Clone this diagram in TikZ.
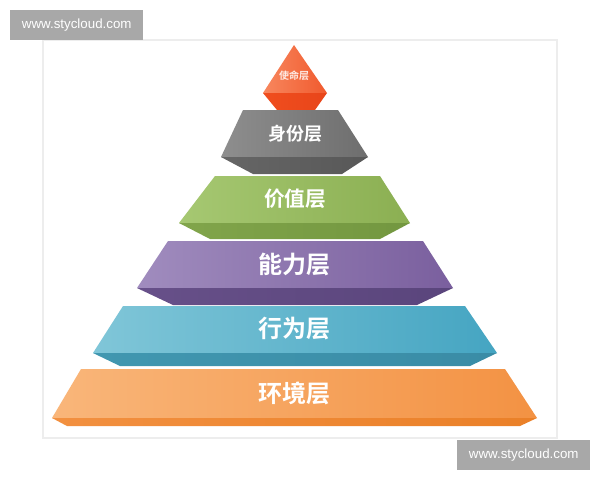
\documentclass[tikz,border=0pt]{standalone}
\usepackage{fontspec}
\setmainfont{Liberation Sans}
\newfontfamily\cjk{Noto Sans CJK SC}[BoldFont={* Bold}]
\definecolor{wmgray}{HTML}{A8A8A8}
\definecolor{framegray}{HTML}{EDEDED}
% layer colours
\definecolor{rAL}{HTML}{F8875E}\definecolor{rAR}{HTML}{F05A2E}\definecolor{rBL}{HTML}{F04E1E}\definecolor{rBR}{HTML}{E8451A}
\definecolor{gAL}{HTML}{8E8E8E}\definecolor{gAR}{HTML}{6E6E6E}\definecolor{gBL}{HTML}{666666}\definecolor{gBR}{HTML}{585858}
\definecolor{vAL}{HTML}{A6C872}\definecolor{vAR}{HTML}{8BAF52}\definecolor{vBL}{HTML}{81A54B}\definecolor{vBR}{HTML}{739740}
\definecolor{pAL}{HTML}{A08CBE}\definecolor{pAR}{HTML}{7A5F9E}\definecolor{pBL}{HTML}{675089}\definecolor{pBR}{HTML}{5A457C}
\definecolor{tAL}{HTML}{80C6D8}\definecolor{tAR}{HTML}{45A5C2}\definecolor{tBL}{HTML}{4197B0}\definecolor{tBR}{HTML}{3A8CA6}
\definecolor{oAL}{HTML}{F9B67A}\definecolor{oAR}{HTML}{F39243}\definecolor{oBL}{HTML}{F29040}\definecolor{oBR}{HTML}{EA8028}
\tikzset{
  wmbox/.style={fill=wmgray,inner sep=0pt,minimum width=133*0.75pt,minimum height=29.5*0.75pt,text=white,font=\fontsize{10}{12}\selectfont},
  lbl/.style={text=white,inner sep=0pt,font=\cjk\bfseries},
}
\begin{document}
\begin{tikzpicture}[x=0.75pt,y=-0.75pt]
\useasboundingbox (0,0) rectangle (600,480);
\fill[white] (0,0) rectangle (600,480);
\draw[framegray,line width=0.8pt] (43,40) rectangle (557,438);
% layer 1: mission
\shade[left color=rAL,right color=rAR] (294,45) -- (327,93) -- (263,93) -- cycle;
\shade[left color=rBL,right color=rBR] (263,93) -- (327,93) -- (315,110) -- (277,110) -- cycle;
% layer 2: gray
\shade[left color=gAL,right color=gAR] (243,110) -- (338,110) -- (368,157) -- (221,157) -- cycle;
\shade[left color=gBL,right color=gBR] (221,157) -- (368,157) -- (342,174) -- (253,174) -- cycle;
% layer 3: green
\shade[left color=vAL,right color=vAR] (215,176) -- (380,176) -- (410,223) -- (179,223) -- cycle;
\shade[left color=vBL,right color=vBR] (179,223) -- (410,223) -- (380,239) -- (210,239) -- cycle;
% layer 4: purple
\shade[left color=pAL,right color=pAR] (168,241) -- (423,241) -- (453,288) -- (137,288) -- cycle;
\shade[left color=pBL,right color=pBR] (137,288) -- (453,288) -- (417,305) -- (173,305) -- cycle;
% layer 5: teal
\shade[left color=tAL,right color=tAR] (123,306) -- (465,306) -- (497,353) -- (93,353) -- cycle;
\shade[left color=tBL,right color=tBR] (93,353) -- (497,353) -- (470,366) -- (120,366) -- cycle;
% layer 6: orange
\shade[left color=oAL,right color=oAR] (81,369) -- (505,369) -- (537,418) -- (52,418) -- cycle;
\shade[left color=oBL,right color=oBR] (52,418) -- (537,418) -- (520,426) -- (67,426) -- cycle;
% labels
\node[lbl,font=\cjk\bfseries\fontsize{7.5}{9}\selectfont,text opacity=0.85] (l1) at (294,76) {使命层};
\node[lbl,font=\cjk\bfseries\fontsize{13.5}{16}\selectfont] (l2) at (295,134) {身份层};
\node[lbl,font=\cjk\bfseries\fontsize{15.5}{18}\selectfont] (l3) at (295,199) {价值层};
\node[lbl,font=\cjk\bfseries\fontsize{18}{21}\selectfont] (l4) at (294,264) {能力层};
\node[lbl,font=\cjk\bfseries\fontsize{18}{21}\selectfont] (l5) at (294,329) {行为层};
\node[lbl,font=\cjk\bfseries\fontsize{18}{21}\selectfont] (l6) at (294,393) {环境层};
% watermarks
\node[wmbox,anchor=north west] (wm1) at (10,10) {www.stycloud.com};
\node[wmbox,anchor=north west] (wm2) at (457,440) {www.stycloud.com};
\end{tikzpicture}
\end{document}
